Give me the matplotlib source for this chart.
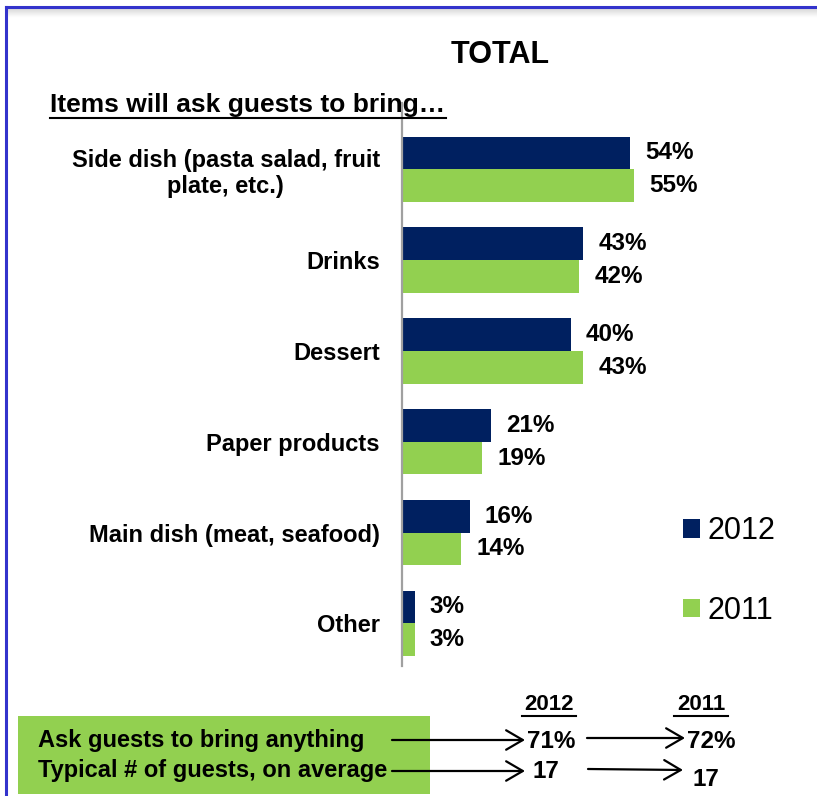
import matplotlib
matplotlib.use("Agg")
import matplotlib.pyplot as plt
from matplotlib.patches import Rectangle, FancyArrowPatch
import numpy as np

plt.rcParams['font.family'] = ['Liberation Sans', 'DejaVu Sans']

categories = ["Side dish (pasta salad, fruit\nplate, etc.)", "Drinks", "Dessert",
              "Paper products", "Main dish (meat, seafood)", "Other"]
vals_2012 = [54, 43, 40, 21, 16, 3]
vals_2011 = [55, 42, 43, 19, 14, 3]
series_labels = ["2012", "2011"]

summary_rows = ["Ask guests to bring anything", "Typical # of guests, on average"]
summary_2012 = ["71%", "17"]
summary_2011 = ["72%", "17"]

NAVY = "#002060"
GREEN = "#92D050"

W, H = 817, 796
fig = plt.figure(figsize=(W / 100, H / 100), dpi=100)

def fx(px):
    return px / W

def fy(py):
    return 1 - py / H

# frame border with soft shadow under the top edge
for i in range(8):
    shade = 0.86 + i * 0.018
    fig.add_artist(plt.Line2D([fx(7), 1], [fy(9 + i), fy(9 + i)], color=(shade, shade, shade),
                              lw=1, transform=fig.transFigure))
fig.add_artist(plt.Line2D([fx(5.5), 1], [fy(6.5), fy(6.5)], color="#3333CC", lw=2.2,
                          transform=fig.transFigure))
fig.add_artist(plt.Line2D([fx(5.5), fx(5.5)], [fy(6.5), 0], color="#3333CC", lw=2.2,
                          transform=fig.transFigure))

# bar chart axes
ax_left, ax_right = 402, 817
ax_top, ax_bot = 103, 666
ax = fig.add_axes([fx(ax_left), fy(ax_bot), fx(ax_right - ax_left), (ax_bot - ax_top) / H])
px_per_pct = 4.22
ax.set_xlim(0, (ax_right - ax_left) / px_per_pct)
ax.set_ylim(5.47, -0.73)

y = np.arange(len(categories))
bh = 0.36
bars12 = ax.barh(y - bh / 2, vals_2012, height=bh, color=NAVY, label=series_labels[0])
bars11 = ax.barh(y + bh / 2, vals_2011, height=bh, color=GREEN, label=series_labels[1])

for yi, v in zip(y, vals_2012):
    ax.annotate(f"{v}%", (v, yi - bh / 2), xytext=(11, 0), textcoords="offset points",
                ha="left", va="center", fontsize=17.5, fontweight="bold")
for yi, v in zip(y, vals_2011):
    ax.annotate(f"{v}%", (v, yi + bh / 2), xytext=(11, 0), textcoords="offset points",
                ha="left", va="center", fontsize=17.5, fontweight="bold")

ax.set_yticks(y)
ax.set_yticklabels(categories, fontsize=17, fontweight="bold", multialignment="center")
ax.tick_params(axis="y", length=0, pad=16)
ax.set_xticks([])
for s in ["top", "right", "bottom"]:
    ax.spines[s].set_visible(False)
ax.spines["left"].set_color("#A0A0A0")
ax.spines["left"].set_linewidth(1.6)
ax.patch.set_alpha(0)

# legend
fig.legend(handles=[bars12[0], bars11[0]], labels=series_labels, loc="upper left",
           bbox_to_anchor=(fx(668), fy(501)), frameon=False, fontsize=22,
           handlelength=0.55, handleheight=0.55, handletextpad=0.25, labelspacing=1.62,
           borderpad=0)

# titles
fig.text(fx(500), fy(55), "TOTAL", ha="center", va="center", fontsize=22, fontweight="bold")
fig.text(fx(50), fy(105), "Items will ask guests to bring\u2026", ha="left", va="center",
         fontsize=19, fontweight="bold")
fig.add_artist(plt.Line2D([fx(50), fx(446)], [fy(118), fy(118)], color="black", lw=1.5,
                          transform=fig.transFigure))

# summary box
fig.add_artist(Rectangle((fx(18), fy(794)), fx(430 - 18), (794 - 716) / H, facecolor=GREEN,
                         edgecolor="none", transform=fig.transFigure))
row_y = [741, 771]
for txt, yy in zip(summary_rows, row_y):
    fig.text(fx(38), fy(yy), txt, ha="left", va="center", fontsize=17, fontweight="bold")

for head, xc in zip(series_labels, [549, 701]):
    fig.text(fx(xc), fy(704), head, ha="center", va="center", fontsize=16, fontweight="bold")
    fig.add_artist(plt.Line2D([fx(xc - 27), fx(xc + 27)], [fy(716), fy(716)], color="black",
                              lw=1.5, transform=fig.transFigure))

for v, yy in zip(summary_2012, row_y):
    fig.text(fx(527) if v.endswith("%") else fx(532), fy(yy + 1), v, ha="left", va="center",
             fontsize=17.5, fontweight="bold")
fig.text(fx(687), fy(741), summary_2011[0], ha="left", va="center", fontsize=17.5,
         fontweight="bold")
fig.text(fx(692), fy(780), summary_2011[1], ha="left", va="center", fontsize=17.5,
         fontweight="bold")

def arrow(x0, y0, x1, y1):
    fig.add_artist(FancyArrowPatch((fx(x0), fy(y0)), (fx(x1), fy(y1)), transform=fig.transFigure,
                                   arrowstyle="->,head_length=12,head_width=7", lw=1.6,
                                   color="black", shrinkA=0, shrinkB=0))

arrow(392, 740, 525, 740)
arrow(392, 771, 525, 771)
arrow(587, 738, 685, 738)
arrow(588, 769, 683, 770)

fig.savefig("out.png", dpi=100, facecolor="white")
